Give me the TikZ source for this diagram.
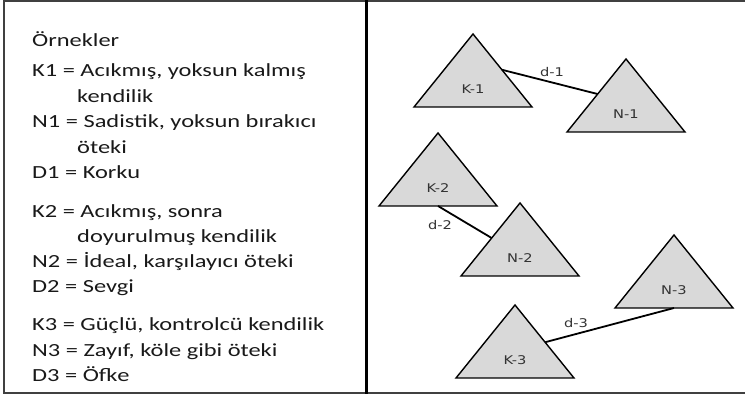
\documentclass[tikz,border=0pt]{standalone}
\usepackage{graphicx}
\usepackage{fontspec}
\setmainfont{Carlito}
\newfontfamily\labelfont{DejaVu Sans}
\usetikzlibrary{calc}
\definecolor{trifill}{HTML}{D9D9D9}
\definecolor{framegray}{HTML}{404040}
\definecolor{labelgray}{HTML}{333333}
\newcommand\wide[1]{\scalebox{1.32}[1]{#1}}
\newcommand\widel[1]{\scalebox{1.22}[1]{#1}}
\tikzset{
  lefttext/.style={anchor=base west, inner sep=0pt, font=\fontsize{18.5}{22}\selectfont, text=black!90},
  trilabel/.style={inner sep=0pt, font=\labelfont\fontsize{12}{14}\selectfont, text=labelgray},
  tribody/.style={draw=black, line width=1.4pt, fill=trifill, line join=miter},
  link/.style={draw=black, line width=1.8pt},
  linklabel/.style={inner sep=0pt, font=\labelfont\fontsize{12}{14}\selectfont, text=labelgray},
  frameline/.style={draw=framegray, line width=2pt},
}
% triangle: name, centre x, top y, label
\newcommand\mytri[4]{%
  \coordinate (#1-apex) at (#2,#3);
  \coordinate (#1-left) at ($(#2,#3)+(-59,73)$);
  \coordinate (#1-right) at ($(#2,#3)+(59,73)$);
  \coordinate (#1-base) at ($(#2,#3)+(0,73)$);
  \path[tribody] (#1-apex) -- (#1-right) -- (#1-left) -- cycle;
  \node[trilabel] (#1) at ($(#2,#3)+(0,55)$) {\widel{#4}};
}
\begin{document}
\begin{tikzpicture}[x=1pt,y=-1pt]
\useasboundingbox (0,0) rectangle (745,395);
% frame
\draw[frameline] (4,1.5) -- (746,1.5);
\draw[frameline] (4,393.5) -- (746,393.5);
\draw[frameline] (4,0.5) -- (4,394.5);
\draw[draw=black, line width=2.2pt] (366.5,0.5) -- (366.5,394.5);
% left text
\node[lefttext] (t0) at (32,47) {\wide{Örnekler}};
\node[lefttext] (t1) at (32,77) {\wide{K1 = Acıkmış, yoksun kalmış}};
\node[lefttext] (t2) at (77,103) {\wide{kendilik}};
\node[lefttext] (t3) at (32,128) {\wide{N1 = Sadistik, yoksun bırakıcı}};
\node[lefttext] (t4) at (77,154) {\wide{öteki}};
\node[lefttext] (t5) at (32,179) {\wide{D1 = Korku}};
\node[lefttext] (t6) at (32,218) {\wide{K2 = Acıkmış, sonra}};
\node[lefttext] (t7) at (77,243) {\wide{doyurulmuş kendilik}};
\node[lefttext] (t8) at (32,268) {\wide{N2 = İdeal, karşılayıcı öteki}};
\node[lefttext] (t9) at (32,293) {\wide{D2 = Sevgi}};
\node[lefttext] (t10) at (32,331) {\wide{K3 = Güçlü, kontrolcü kendilik}};
\node[lefttext] (t11) at (32,357) {\wide{N3 = Zayıf, köle gibi öteki}};
\node[lefttext] (t12) at (32,382) {\wide{D3 = Öfke}};
% triangles
\mytri{K1}{473}{34}{K-1}
\mytri{N1}{626}{59}{N-1}
\mytri{K2}{438}{133}{K-2}
\mytri{N2}{520}{203}{N-2}
\mytri{N3}{674}{235}{N-3}
\mytri{K3}{515}{305}{K-3}
% connectors
\coordinate (d1a) at ($(K1-apex)!0.49!(K1-right)$);
\coordinate (d1b) at ($(N1-apex)!0.48!(N1-left)$);
\coordinate (d2b) at ($(N2-apex)!0.48!(N2-left)$);
\coordinate (d3a) at ($(K3-apex)!0.51!(K3-right)$);
\draw[link] (d1a) -- (d1b);
\draw[link] (K2-base) -- (d2b);
\draw[link] (d3a) -- (N3-base);
\node[linklabel] (l1) at (552,72) {\widel{d-1}};
\node[linklabel] (l2) at (440,225) {\widel{d-2}};
\node[linklabel] (l3) at (576,323) {\widel{d-3}};
\end{tikzpicture}
\end{document}
